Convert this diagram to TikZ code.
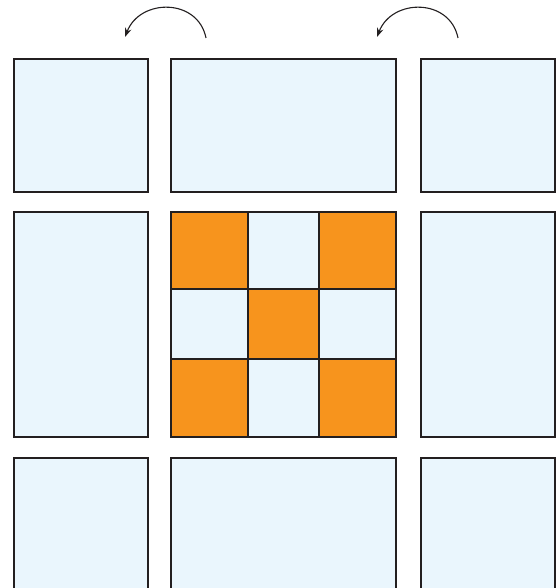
\documentclass[tikz,border=0pt]{standalone}
\usetikzlibrary{arrows.meta}
\definecolor{paleblue}{HTML}{EAF6FD}
\definecolor{orng}{HTML}{F7941D}
\definecolor{ink}{HTML}{231F20}
\begin{document}
\begin{tikzpicture}[x=1pt,y=-1pt,
  cell/.style={draw=ink,line width=2.5pt,fill=paleblue},
  ocell/.style={draw=ink,line width=2.5pt,fill=orng},
  turn/.style={draw=ink,line width=1.1pt,-{Stealth[length=9pt,width=6.5pt]}}]
\useasboundingbox (0,0) rectangle (558,588);
\clip (0,0) rectangle (558,588);
% outer blocks
\path[cell] (14,59) rectangle (148,192);
\path[cell] (171,59) rectangle (396,192);
\path[cell] (421,59) rectangle (555,192);
\path[cell] (14,212) rectangle (148,437);
\path[cell] (421,212) rectangle (555,437);
\path[cell] (14,458) rectangle (148,620);
\path[cell] (171,458) rectangle (396,620);
\path[cell] (421,458) rectangle (555,620);
% centre 3x3
\path[ocell] (171,212) rectangle (248,289);
\path[cell]  (248,212) rectangle (319,289);
\path[ocell] (319,212) rectangle (396,289);
\path[cell]  (171,289) rectangle (248,359);
\path[ocell] (248,289) rectangle (319,359);
\path[cell]  (319,289) rectangle (396,359);
\path[ocell] (171,359) rectangle (248,437);
\path[cell]  (248,359) rectangle (319,437);
\path[ocell] (319,359) rectangle (396,437);
% arrows
\coordinate (a1s) at (206,38);
\coordinate (a1e) at (125,37);
\coordinate (a2s) at (458,38);
\coordinate (a2e) at (377,37);
\draw[turn] (a1s) .. controls (198,-2) and (140,-2) .. (a1e);
\draw[turn] (a2s) .. controls (450,-2) and (392,-2) .. (a2e);
\end{tikzpicture}
\end{document}
